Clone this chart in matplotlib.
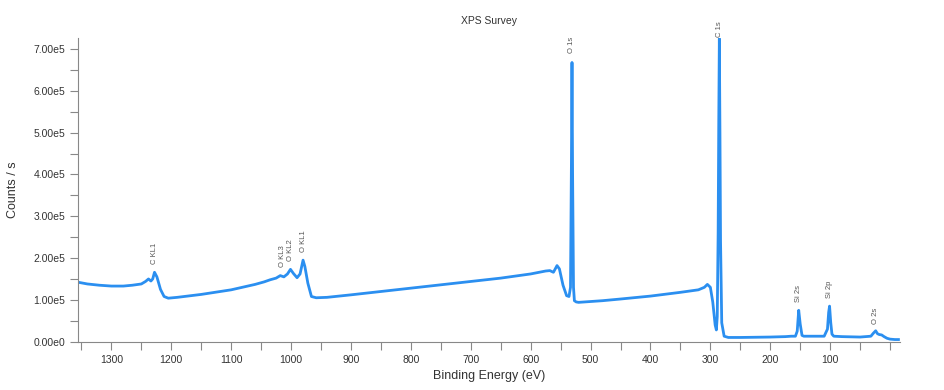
import matplotlib
matplotlib.use("Agg")
import matplotlib.pyplot as plt
from matplotlib.ticker import MultipleLocator, FuncFormatter

plt.rcParams['font.family'] = ['Liberation Sans', 'DejaVu Sans']

# spectrum (binding energy in eV, counts / s)
binding_energy = [1355, 1340, 1320, 1300, 1280, 1265, 1250, 1243, 1238, 1234, 1231, 1228,
                  1224, 1218, 1212, 1205, 1190, 1150, 1100, 1060, 1045, 1035, 1025, 1018,
                  1012, 1006, 1001, 996, 990, 985, 980, 977, 972, 966, 958, 940, 900, 850,
                  800, 750, 700, 650, 600, 575, 568, 562, 556, 552, 546, 540, 536, 533.5,
                  532, 531, 530, 528.5, 527, 524, 520, 480, 450, 400, 350, 320, 310, 305,
                  300, 296, 292, 290, 288.5, 287, 286, 285, 284, 283, 281, 277, 270, 250,
                  200, 175, 165, 158, 155, 152.5, 150, 147, 144, 130, 110, 104.5, 102.5,
                  101, 99, 97, 94, 80, 50, 32, 28, 24, 21, 18, 14, 10, 5, 0, -8, -14]
counts = [1.42e5, 1.38e5, 1.35e5, 1.33e5, 1.33e5, 1.35e5, 1.38e5, 1.44e5, 1.50e5, 1.45e5, 1.50e5, 1.66e5,
          1.55e5, 1.25e5, 1.08e5, 1.04e5, 1.06e5, 1.13e5, 1.24e5, 1.37e5, 1.43e5, 1.48e5, 1.52e5, 1.58e5,
          1.55e5, 1.62e5, 1.73e5, 1.63e5, 1.53e5, 1.62e5, 1.95e5, 1.80e5, 1.40e5, 1.08e5, 1.05e5, 1.06e5, 1.12e5, 1.20e5,
          1.28e5, 1.36e5, 1.44e5, 1.52e5, 1.62e5, 1.69e5, 1.70e5, 1.66e5, 1.82e5, 1.74e5, 1.35e5, 1.10e5, 1.08e5, 1.30e5,
          4.20e5, 6.68e5, 4.00e5, 1.30e5, 0.98e5, 0.95e5, 0.94e5, 0.98e5, 1.02e5, 1.09e5, 1.18e5, 1.24e5, 1.30e5, 1.37e5,
          1.30e5, 0.95e5, 0.40e5, 0.28e5, 0.60e5, 2.60e5, 5.20e5, 7.25e5, 5.00e5, 2.40e5, 0.45e5, 0.13e5, 0.10e5, 0.10e5,
          0.11e5, 0.12e5, 0.13e5, 0.13e5, 0.25e5, 0.75e5, 0.42e5, 0.15e5, 0.13e5, 0.13e5, 0.13e5, 0.30e5, 0.70e5,
          0.85e5, 0.45e5, 0.18e5, 0.13e5, 0.12e5, 0.11e5, 0.13e5, 0.20e5, 0.26e5, 0.19e5, 0.17e5, 0.16e5, 0.12e5, 0.08e5, 0.06e5, 0.05e5, 0.05e5]

peak_names = ["C KL1", "O KL3", "O KL2", "O KL1", "O 1s", "C 1s", "Si 2s", "Si 2p", "O 2s"]
peak_energy = [1228, 1015, 1001, 980, 531, 285, 152.5, 101, 24]
peak_height = [1.66e5, 1.58e5, 1.73e5, 1.95e5, 6.68e5, 7.25e5, 0.75e5, 0.85e5, 0.26e5]
label_gap = [6, 6, 6, 6, 7, 1, 6, 6, 5]

fig, ax = plt.subplots(figsize=(9.45, 3.9), dpi=100)
fig.subplots_adjust(left=0.083, right=0.952, bottom=0.124, top=0.903)

ax.plot(binding_energy, counts, color="#2b8ff0", lw=2.0, solid_joinstyle="round")

for name, e, h, g in zip(peak_names, peak_energy, peak_height, label_gap):
    ax.annotate(name, (e, h), xytext=(0, g), textcoords="offset points",
                rotation=90, ha="center", va="bottom", fontsize=5.5, color="#555555")

ax.set_xlim(1355, -16)
ax.set_ylim(0, 7.27e5)
ax.xaxis.set_major_locator(MultipleLocator(100))
ax.xaxis.set_minor_locator(MultipleLocator(50))
ax.yaxis.set_major_locator(MultipleLocator(1e5))
ax.yaxis.set_minor_locator(MultipleLocator(0.5e5))


def yfmt(v, pos):
    if v == 0:
        return "0.00e0"
    return f"{v / 1e5:.2f}e5"


def xfmt(v, pos):
    if v <= 0:
        return ""
    return f"{v:.0f}"


ax.yaxis.set_major_formatter(FuncFormatter(yfmt))
ax.xaxis.set_major_formatter(FuncFormatter(xfmt))

for s in ["top", "right"]:
    ax.spines[s].set_visible(False)
for s in ["left", "bottom"]:
    ax.spines[s].set_color("#888888")
    ax.spines[s].set_linewidth(0.8)

ax.tick_params(which="both", direction="out", color="#888888", length=6, width=0.8,
               labelsize=7.5, labelcolor="#333333")

ax.set_title("XPS Survey", fontsize=7.5, color="#333333", pad=10)
ax.set_xlabel("Binding Energy (eV)", fontsize=9, color="#333333")
ax.set_ylabel("Counts / s", fontsize=9, color="#333333", labelpad=10)

plt.savefig("out.png", dpi=100)
